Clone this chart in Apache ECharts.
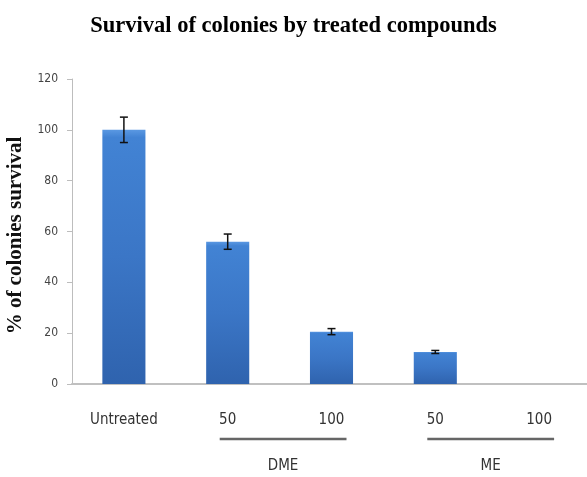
<!DOCTYPE html>
<html><head><meta charset="utf-8">
<script src="https://cdn.jsdelivr.net/npm/echarts@6/dist/echarts.min.js"></script>
<style>html,body{margin:0;padding:0;background:#fff}#c{width:587px;height:477px}</style>
</head><body><div id="c"></div>
<script>
const categories = ['Untreated', '50', '100', '50', '100'];
const survival = [100, 56, 20.6, 12.6, 0];
const errors = [5, 3, 1.2, 0.6, 0];
const groups = [
  { name: 'DME', start: 1, end: 2 },
  { name: 'ME', start: 3, end: 4 }
];
const yTicks = { min: 0, max: 120, interval: 20 };

const chart = echarts.init(document.getElementById('c'));
const errData = survival.map((v, i) => [i, v - errors[i], v + errors[i]]).filter((d, i) => errors[i] > 0);

chart.setOption({
  animation: false,
  title: {
    text: 'Survival of colonies by treated compounds',
    left: 'center', top: 10,
    textStyle: { fontFamily: 'Liberation Serif', fontWeight: 'bold', fontSize: 22.5, color: '#000' }
  },
  grid: { left: 72, right: -4, top: 79, bottom: 93, containLabel: false, outerBoundsMode: 'none' },
  xAxis: {
    type: 'category', data: categories,
    axisLine: { lineStyle: { color: '#c0c0c0', width: 2 } },
    axisTick: { show: false },
    axisLabel: { fontFamily: 'DejaVu Sans Condensed', fontSize: 15, color: '#333', margin: 29 }
  },
  yAxis: {
    type: 'value', min: yTicks.min, max: yTicks.max, interval: yTicks.interval,
    name: '% of colonies survival', nameLocation: 'middle', nameGap: 45, nameRotate: 90,
    nameTextStyle: { fontFamily: 'Liberation Serif', fontWeight: 'bold', fontSize: 21, color: '#111', padding: [0, 8, 0, 0] },
    axisLine: { show: true, lineStyle: { color: '#bdbdbd' } },
    axisTick: { show: true, length: 5, lineStyle: { color: '#bdbdbd' } },
    splitLine: { show: false },
    axisLabel: { fontFamily: 'DejaVu Sans Condensed', fontSize: 12, color: '#444', margin: 14 }
  },
  series: [
    {
      type: 'bar', data: survival, barWidth: '41.5%',
      itemStyle: {
        color: new echarts.graphic.LinearGradient(0, 0, 0, 1, [
          { offset: 0, color: '#5a98e2' },
          { offset: 0.03, color: '#4283d4' },
          { offset: 0.5, color: '#3b76c6' },
          { offset: 1, color: '#2f63ae' }
        ]),
        borderWidth: 0
      }
    },
    {
      type: 'custom', data: errData, z: 5,
      renderItem: function (params, api) {
        const x = api.coord([api.value(0), 0])[0];
        const lo = api.coord([api.value(0), api.value(1)])[1];
        const hi = api.coord([api.value(0), api.value(2)])[1];
        const w = 4;
        const st = { stroke: '#111', lineWidth: 1.5 };
        return { type: 'group', children: [
          { type: 'line', shape: { x1: x, y1: lo, x2: x, y2: hi }, style: st },
          { type: 'line', shape: { x1: x - w, y1: lo, x2: x + w, y2: lo }, style: st },
          { type: 'line', shape: { x1: x - w, y1: hi, x2: x + w, y2: hi }, style: st }
        ]};
      }
    },
    {
      type: 'custom', clip: false, silent: true,
      data: groups.map(g => [g.start, g.end, g.name]),
      renderItem: function (params, api) {
        const g = groups[params.dataIndex];
        const p1 = api.coord([g.start, 0]);
        const p2 = api.coord([g.end, 0]);
        const x1 = p1[0] - 8, x2 = p2[0] + 15;
        const y0 = p1[1];
        return { type: 'group', children: [
          { type: 'line', shape: { x1: x1, y1: y0 + 55, x2: x2, y2: y0 + 55 }, style: { stroke: '#666', lineWidth: 2.5 } },
          { type: 'text', x: (x1 + x2) / 2, y: y0 + 82, style: { text: g.name, align: 'center', verticalAlign: 'middle', fontFamily: 'DejaVu Sans Condensed', fontSize: 15, fill: '#333' } }
        ]};
      }
    }
  ]
});
</script></body></html>
